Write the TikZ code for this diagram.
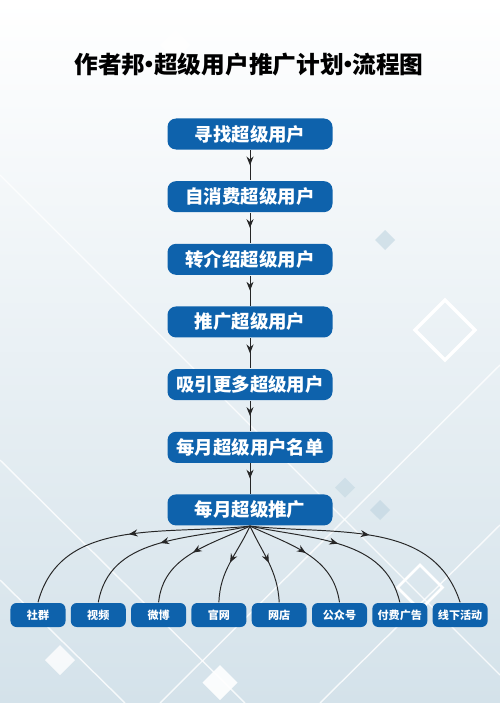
\documentclass[tikz,border=0pt]{standalone}
\usepackage{fontspec}
\setmainfont{Noto Sans CJK SC}
\usetikzlibrary{positioning,arrows.meta,decorations.markings}
\definecolor{boxblue}{RGB}{14,98,172}
\definecolor{bgblue}{RGB}{212,226,234}
\definecolor{tileblue}{RGB}{190,212,224}
\newcommand{\tdot}{\hspace{-0.32em}·\hspace{-0.32em}}
\begin{document}
\begin{tikzpicture}[node distance=1.253cm,thick,
    main node/.style={fill=boxblue,text=white,rounded corners=0.17cm,minimum width=3.3cm,minimum height=0.62cm,inner sep=0pt,font=\bfseries\fontsize{10.5}{12}\selectfont},
    sub node/.style={fill=boxblue,text=white,rounded corners=0.12cm,minimum width=1.1cm,minimum height=0.48cm,inner sep=0pt,font=\bfseries\fontsize{6.3}{7}\selectfont},
    flow/.style={draw=black!85,line width=0.55pt,postaction={decorate},
        decoration={markings,mark=at position 0.5 with {\arrow{Stealth[length=5pt,width=4pt]}}}}]
    % background
    \useasboundingbox (0,0) rectangle (10,-14.06);
    \shade[top color=white,bottom color=bgblue] (0,0) rectangle (10,-14.06);
    \begin{scope}[white,line width=0.8pt,opacity=0.8]
        \draw (0,-9.2) -- (4.9,-14.06);
        \draw (3.2,-14.06) -- (10,-7.3);
        \draw (0,-3.5) -- (10,-13.5);
        \draw (6.4,-14.06) -- (10,-10.5);
        \draw (0,-11.6) -- (2.5,-14.06);
    \end{scope}
    \draw[white,line width=2pt] (8.9,-6) -- (9.5,-6.6) -- (8.9,-7.2) -- (8.3,-6.6) -- cycle;
    \draw[white,line width=1.5pt] (8.4,-11.3) -- (8.85,-11.75) -- (8.4,-12.2) -- (7.95,-11.75) -- cycle;
    \fill[tileblue,opacity=0.6] (7.7,-4.6) -- (7.9,-4.8) -- (7.7,-5) -- (7.5,-4.8) -- cycle;
    \fill[tileblue,opacity=0.6] (7.6,-10) -- (7.8,-10.2) -- (7.6,-10.4) -- (7.4,-10.2) -- cycle;
    \fill[white,opacity=0.9] (4.4,-13.3) -- (4.75,-13.65) -- (4.4,-14) -- (4.05,-13.65) -- cycle;
    \fill[white,opacity=0.8] (1.2,-12.9) -- (1.5,-13.2) -- (1.2,-13.5) -- (0.9,-13.2) -- cycle;
    \fill[white,opacity=0.8] (3.5,-0.6) -- (3.8,-0.9) -- (3.5,-1.2) -- (3.2,-0.9) -- cycle;
    \fill[tileblue,opacity=0.5] (6.9,-9.55) -- (7.1,-9.75) -- (6.9,-9.95) -- (6.7,-9.75) -- cycle;

    % title
    \node (title) at (4.98,-1.3) {\bfseries\fontsize{13.5}{15}\selectfont 作者邦\tdot 超级用户推广计划\tdot 流程图};

    % main steps
    \node[main node] (1) at (5,-2.68) {寻找超级用户};
    \node[main node] (2) [below of=1] {自消费超级用户};
    \node[main node] (3) [below of=2] {转介绍超级用户};
    \node[main node] (4) [below of=3] {推广超级用户};
    \node[main node] (5) [below of=4] {吸引更多超级用户};
    \node[main node] (6) [below of=5] {每月超级用户名单};
    \node[main node] (7) [below of=6] {每月超级推广};

    % channels
    \begin{scope}[node distance=1.206cm]
        \node[sub node] (s1) at (0.76,-12.3) {社群};
        \node[sub node] (s2) [right of=s1] {视频};
        \node[sub node] (s3) [right of=s2] {微博};
        \node[sub node] (s4) [right of=s3] {官网};
        \node[sub node] (s5) [right of=s4] {网店};
        \node[sub node] (s6) [right of=s5] {公众号};
        \node[sub node] (s7) [right of=s6] {付费广告};
        \node[sub node] (s8) [right of=s7] {线下活动};
    \end{scope}

    \path (1) edge[flow] (2)
          (2) edge[flow] (3)
          (3) edge[flow] (4)
          (4) edge[flow] (5)
          (5) edge[flow] (6)
          (6) edge[flow] (7);
    \path (7.south) edge[flow,out=186,in=75] (s1.north)
          (7.south) edge[flow,out=192,in=80] (s2.north)
          (7.south) edge[flow,out=205,in=84] (s3.north)
          (7.south) edge[flow,out=245,in=88] (s4.north)
          (7.south) edge[flow,out=295,in=93] (s5.north)
          (7.south) edge[flow,out=335,in=98] (s6.north)
          (7.south) edge[flow,out=348,in=103] (s7.north)
          (7.south) edge[flow,out=354,in=108] (s8.north);
\end{tikzpicture}
\end{document}
